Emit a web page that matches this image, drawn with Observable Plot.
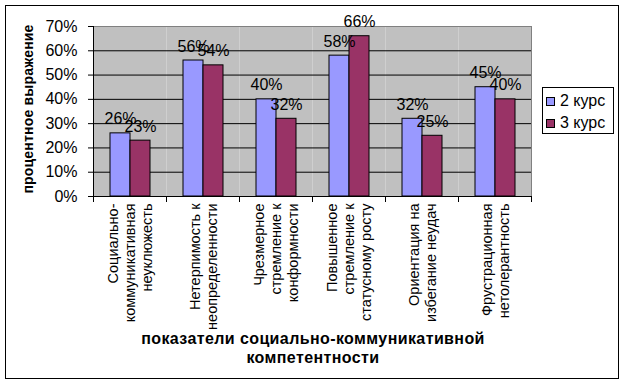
<!DOCTYPE html>
<html>
<head>
<meta charset="utf-8">
<script src="https://cdn.jsdelivr.net/npm/d3@7"></script>
<script src="https://cdn.jsdelivr.net/npm/@observablehq/plot@0.6"></script>
<style>
  html, body { margin: 0; padding: 0; background: #fff; }
  #wrap { position: relative; width: 623px; height: 382px; font-family: "Liberation Sans", Arial, sans-serif; overflow: hidden; }
  #border { position: absolute; left: 5px; top: 5px; width: 614px; height: 374px; border: 1px solid #000; box-sizing: border-box; pointer-events: none; }
  #chart { position: absolute; left: 0; top: 0; }
  #ytitle { position: absolute; left: 28px; top: 109px; transform: translate(-50%, -50%) rotate(-90deg); white-space: nowrap; font-weight: bold; font-size: 14px; letter-spacing: 0.2px; color: #000; }
  #xtitle { position: absolute; left: 0; width: 626px; top: 329px; text-align: center; font-weight: bold; font-size: 16px; line-height: 19px; letter-spacing: 0.4px; color: #000; }
  #legend { position: absolute; left: 542px; top: 87px; width: 72px; height: 47px; border: 1px solid #000; box-sizing: border-box; background: #fff; font-size: 16px; }
  #legend .row { position: absolute; left: 3px; height: 20px; display: flex; align-items: center; white-space: nowrap; }
  #legend .sw { width: 9px; height: 9px; border: 1px solid #000; box-sizing: border-box; margin-right: 5px; }
</style>
</head>
<body>
<div id="wrap">
  <div id="chart"></div>
  <div id="ytitle"></div>
  <div id="xtitle"></div>
  <div id="legend"></div>
  <div id="border"></div>
</div>
<script>
// ---- data ----
const categories = [
  "Социально-коммуникативная неуклюжесть",
  "Нетерпимость к неопределенности",
  "Чрезмерное стремление к конформности",
  "Повышенное стремление к статусному росту",
  "Ориентация на избегание неудач",
  "Фрустрационная нетолерантность"
];
const categoryLabels = [
  "Социально-\nкоммуникативная\nнеуклюжесть",
  "Нетерпимость к\nнеопределенности",
  "Чрезмерное\nстремление к\nконформности",
  "Повышенное\nстремление к\nстатусному росту",
  "Ориентация на\nизбегание неудач",
  "Фрустрационная\nнетолерантность"
];
const seriesNames = ["2 курс", "3 курс"];
const course2 = [0.26, 0.56, 0.40, 0.58, 0.32, 0.45];
const course3 = [0.23, 0.54, 0.32, 0.66, 0.25, 0.40];
const yTicks = [0, 0.1, 0.2, 0.3, 0.4, 0.5, 0.6, 0.7];
const gridTicks = [0.1, 0.2, 0.3, 0.4, 0.5, 0.6];
const colors = ["#9999FF", "#993366"];
const yTitle = "процентное выражение";
const xTitle = "показатели социально-коммуникативной\nкомпетентности";

// ---- table ----
const rows = [];
categories.forEach((c, i) => {
  rows.push({cat: c, series: seriesNames[0], value: course2[i]});
  rows.push({cat: c, series: seriesNames[1], value: course3[i]});
});
const labelOf = new Map(categories.map((c, i) => [c, categoryLabels[i]]));
const pct = d3.format(".0%");

const chart = Plot.plot({
  width: 623,
  height: 382,
  marginLeft: 91,
  marginRight: 91,
  marginTop: 26,
  marginBottom: 186,
  style: {fontFamily: "'Liberation Sans', Arial, sans-serif", background: "transparent", color: "#000", overflow: "visible"},
  fx: {domain: categories, padding: 0, label: null},
  x: {domain: seriesNames, paddingInner: 0, paddingOuter: 0.74, axis: null},
  y: {domain: [0, 0.7], label: null},
  color: {domain: seriesNames, range: colors},
  marks: [
    Plot.frame({fill: "#C0C0C0", stroke: "none"}),
    Plot.ruleY(gridTicks, {stroke: "#000", strokeWidth: 1}),
    Plot.ruleY([0.7], {stroke: "#808080", strokeWidth: 1}),
    Plot.frame({anchor: "right", facetAnchor: "right", stroke: "#808080"}),
    Plot.barY(rows, {fx: "cat", x: "series", y: "value", fill: "series", stroke: "#000", strokeWidth: 1}),
    Plot.ruleY([0], {stroke: "#000", strokeWidth: 1}),
    Plot.frame({anchor: "left", facetAnchor: "left", stroke: "#000"}),
    Plot.frame({anchor: "left", insetTop: 170, insetBottom: -5, stroke: "#000"}),
    Plot.frame({anchor: "right", facetAnchor: "right", insetTop: 170, insetBottom: -5, stroke: "#000"}),
    Plot.axisY({ticks: yTicks, tickFormat: pct, tickSize: 5, tickPadding: 11, fontSize: 16, label: null, stroke: "#000"}),
    Plot.axisFx({anchor: "bottom", tickSize: 0, tickPadding: 7, tickRotate: -90, fontSize: 14.5, lineHeight: 1.17, label: null, tickFormat: d => labelOf.get(d)}),
    Plot.text(rows, {fx: "cat", x: "series", y: "value", text: d => pct(d.value), lineAnchor: "bottom", dy: -9, fontSize: 16, fill: "#000"})
  ]
});
document.getElementById("chart").appendChild(chart);

document.getElementById("ytitle").textContent = yTitle;
document.getElementById("xtitle").innerHTML = xTitle.split("\n").join("<br>");
const legend = document.getElementById("legend");
seriesNames.forEach((s, i) => {
  const row = document.createElement("div");
  row.className = "row";
  row.style.top = (3 + i * 22) + "px";
  row.innerHTML = `<span class="sw" style="background:${colors[i]}"></span><span>${s}</span>`;
  legend.appendChild(row);
});
</script>
</body>
</html>
